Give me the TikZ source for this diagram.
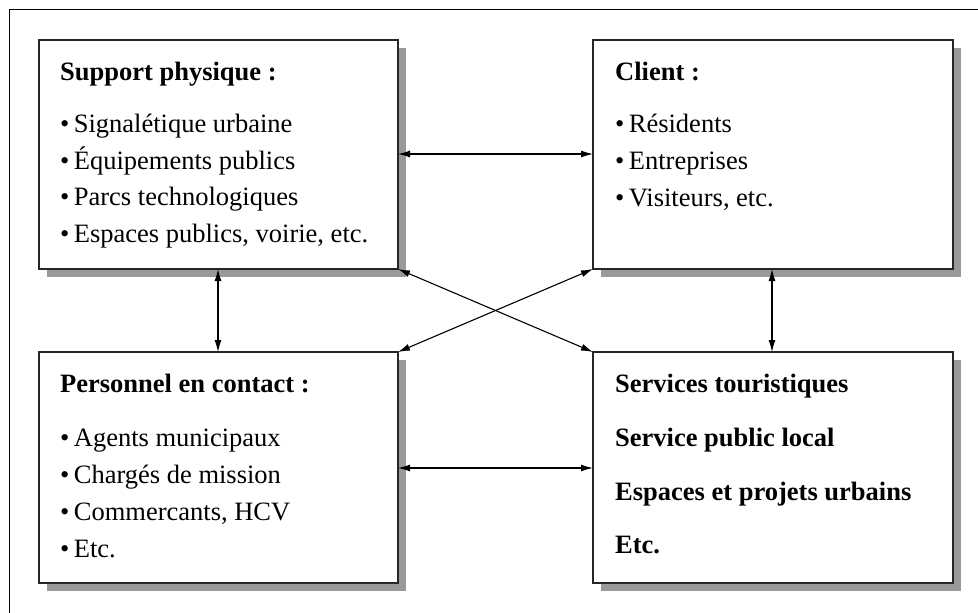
\documentclass[tikz,border=0pt]{standalone}
\usepackage{fontspec}
\setmainfont{Liberation Serif}
\usetikzlibrary{arrows.meta}
\begin{document}
\begin{tikzpicture}[x=1pt,y=-1pt,
  box/.style={draw=black!85,line width=1.2pt,fill=white,inner sep=0pt,outer sep=0pt},
  txt/.style={anchor=base west,inner sep=0pt,font=\fontsize{26.5}{30}\selectfont},
  ttl/.style={txt,font=\fontsize{26.5}{30}\selectfont\bfseries},
  link/.style={{Latex[length=12pt,width=7pt]}-{Latex[length=12pt,width=7pt]},line width=1.1pt}]
\useasboundingbox (0,0) rectangle (978,613);
\fill[white] (0,0) rectangle (978,613);
\draw[line width=1pt] (9,613) -- (9,9) -- (978,9);
% shadows
\fill[black!40] (47,48) rectangle (406,277);
\fill[black!40] (601,48) rectangle (961,277);
\fill[black!40] (47,360) rectangle (406,591);
\fill[black!40] (601,360) rectangle (961,591);
% boxes
\node[box,minimum width=359pt,minimum height=229pt,anchor=north west] (sp) at (39,40) {};
\node[box,minimum width=360pt,minimum height=229pt,anchor=north west] (cl) at (593,40) {};
\node[box,minimum width=359pt,minimum height=231pt,anchor=north west] (pc) at (39,352) {};
\node[box,minimum width=360pt,minimum height=231pt,anchor=north west] (sv) at (593,352) {};
% texts box 1
\node[ttl] (sp0) at (60,80) {Support physique :};
\node[txt] (sp1) at (60,132) {•\,Signalétique urbaine};
\node[txt] (sp2) at (60,169) {•\,Équipements publics};
\node[txt] (sp3) at (60,205) {•\,Parcs technologiques};
\node[txt] (sp4) at (60,242) {•\,Espaces publics, voirie, etc.};
% box 2
\node[ttl] (cl0) at (615,80) {Client :};
\node[txt] (cl1) at (615,132) {•\,Résidents};
\node[txt] (cl2) at (615,169) {•\,Entreprises};
\node[txt] (cl3) at (615,206) {•\,Visiteurs, etc.};
% box 3
\node[ttl] (pc0) at (60,392) {Personnel en contact :};
\node[txt] (pc1) at (60,446) {•\,Agents municipaux};
\node[txt] (pc2) at (60,483) {•\,Chargés de mission};
\node[txt] (pc3) at (60,520) {•\,Commercants, HCV};
\node[txt] (pc4) at (60,557) {•\,Etc.};
% box 4
\node[ttl] (sv1) at (615,392) {Services touristiques};
\node[ttl] (sv2) at (615,446) {Service public local};
\node[ttl] (sv3) at (615,500) {Espaces et projets urbains};
\node[ttl] (sv4) at (615,553) {Etc.};
% connectors
\draw[link] (sp.east |- 0,154) -- (cl.west |- 0,154);
\draw[link] (pc.east |- 0,468) -- (sv.west |- 0,468);
\draw[link] (sp.south -| 218,0) -- (pc.north -| 218,0);
\draw[link] (cl.south -| 772,0) -- (sv.north -| 772,0);
\draw[link] (sp.south east) -- (sv.north west);
\draw[link] (cl.south west) -- (pc.north east);
\end{tikzpicture}
\end{document}
